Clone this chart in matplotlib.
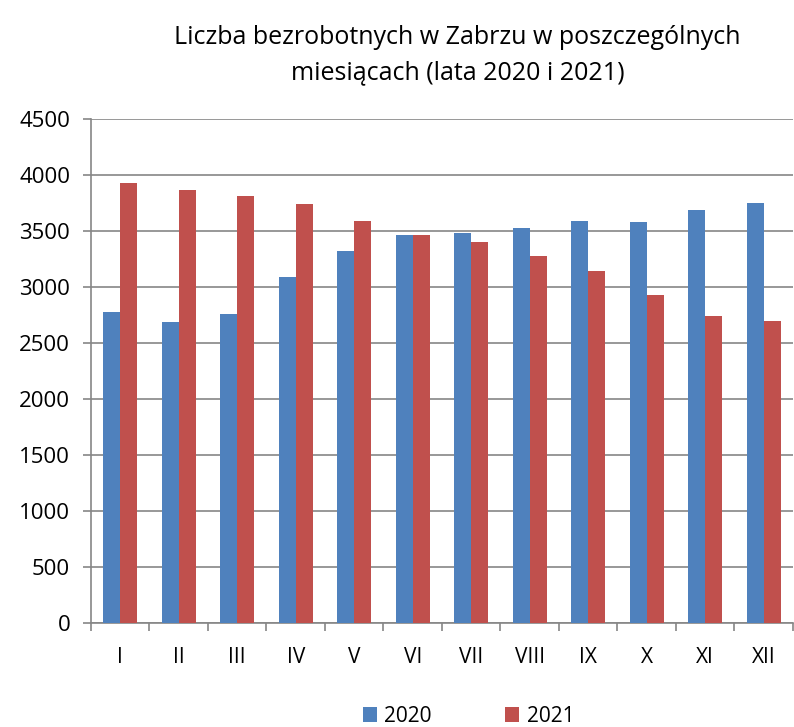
import numpy as np
import matplotlib.pyplot as plt

months = ['I', 'II', 'III', 'IV', 'V', 'VI', 'VII', 'VIII', 'IX', 'X', 'XI', 'XII']
y2020 = [2777, 2685, 2759, 3089, 3321, 3467, 3488, 3530, 3592, 3586, 3685, 3756]
y2021 = [3926, 3872, 3812, 3747, 3589, 3467, 3399, 3280, 3140, 2926, 2741, 2696]

plt.rcParams['font.family'] = ['Open Sans', 'DejaVu Sans']

fig = plt.figure(figsize=(7.94, 7.27), dpi=100)
ax = fig.add_axes([0.1146, 0.143, 0.884, 0.693])

x = np.arange(len(months))
w = 0.29
ax.bar(x - w / 2, y2020, w, color='#4F81BD', label='2020', zorder=3)
ax.bar(x + w / 2, y2021, w, color='#C0504D', label='2021', zorder=3)

ax.set_xlim(-0.5, len(months) - 0.5)
ax.set_ylim(0, 4500)
ax.set_yticks(range(0, 4501, 500))
ax.yaxis.grid(True, color='#868686', linewidth=1.2, zorder=0)
ax.set_axisbelow(True)

ax.set_xticks(x)
ax.set_xticklabels(months, fontsize=15)
ax.set_xticks(np.arange(-0.5, len(months)), minor=True)
ax.tick_params(axis='x', which='major', length=0, pad=17)
ax.tick_params(axis='x', which='minor', length=6, color='#868686', width=1.2)
ax.tick_params(axis='y', labelsize=16, length=6, color='#868686', width=1.2, pad=9)

for s in ['top', 'right']:
    ax.spines[s].set_visible(False)
for s in ['left', 'bottom']:
    ax.spines[s].set_color('#868686')
    ax.spines[s].set_linewidth(1.2)

fig.text(0.576, 0.924, 'Liczba bezrobotnych w Zabrzu w poszczególnych\nmiesiącach (lata 2020 i 2021)',
         ha='center', va='center', fontsize=18, linespacing=1.55)

fig.legend(loc='center', bbox_to_anchor=(0.59, 0.015), ncol=2, frameon=False, fontsize=15,
           handlelength=0.7, handleheight=0.7, columnspacing=3.5, handletextpad=0.35)

fig.savefig('out.png')
